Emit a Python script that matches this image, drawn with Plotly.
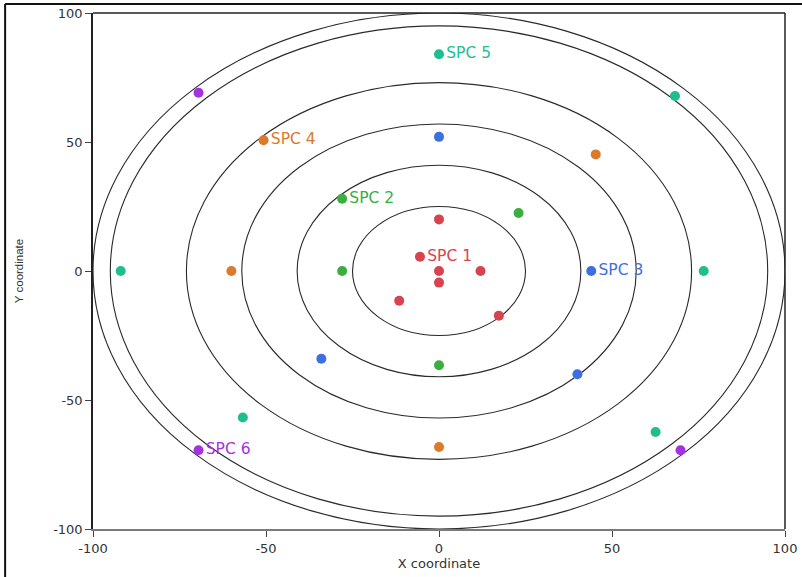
import plotly.graph_objects as go

# ---- data ----
radii = [25, 41, 57, 73, 95, 100]

groups = ["SPC 1", "SPC 2", "SPC 3", "SPC 4", "SPC 5", "SPC 6"]
colors = ["#d9434f", "#3aae3f", "#3d6fe0", "#d97b29", "#1fbe8e", "#a532e0"]

spc1_x = [0, -5.5, 0, 12, 0, -11.5, 17.3]
spc1_y = [20, 5.5, 0, 0, -4.5, -11.5, -17.3]
spc1_lbl = ["", "SPC 1", "", "", "", "", ""]

spc2_x = [-28, -28, 23, 0]
spc2_y = [28, 0, 22.5, -36.5]
spc2_lbl = ["SPC 2", "", "", ""]

spc3_x = [0, 44, -34, 40]
spc3_y = [52, 0, -34, -40]
spc3_lbl = ["", "SPC 3", "", ""]

spc4_x = [-50.7, -60, 45.3, 0]
spc4_y = [50.7, 0, 45.2, -68.2]
spc4_lbl = ["SPC 4", "", "", ""]

spc5_x = [0, 68.2, 76.5, -92, -56.7, 62.6]
spc5_y = [84, 67.8, 0, 0, -56.8, -62.4]
spc5_lbl = ["SPC 5", "", "", "", "", ""]

spc6_x = [-69.5, -69.5, 69.8]
spc6_y = [69.1, -69.5, -69.5]
spc6_lbl = ["", "SPC 6", ""]

xs = [spc1_x, spc2_x, spc3_x, spc4_x, spc5_x, spc6_x]
ys = [spc1_y, spc2_y, spc3_y, spc4_y, spc5_y, spc6_y]
lbls = [spc1_lbl, spc2_lbl, spc3_lbl, spc4_lbl, spc5_lbl, spc6_lbl]

tick_vals = [-100, -50, 0, 50, 100]
tick_text = ["-100", "-50", "0", "50", "100"]

FONT = "DejaVu Sans, sans-serif"
FONT_Y = "Liberation Sans, Arial, sans-serif"

fig = go.Figure()

shapes = []
for r in radii:
    shapes.append(dict(type="circle", xref="x", yref="y", x0=-r, x1=r, y0=-r, y1=r,
                       line=dict(color="#2a2a2a", width=1.1), layer="below"))

for name, c, x, y, t in zip(groups, colors, xs, ys, lbls):
    fig.add_trace(go.Scatter(
        x=x, y=y, mode="markers+text", name=name, text=t,
        textposition="middle right",
        textfont=dict(family=FONT, size=15.5, color=c),
        marker=dict(color=c, size=10, line=dict(width=0)),
        cliponaxis=False,
    ))

# plot frame top & right
shapes.append(dict(type="line", xref="paper", yref="paper", x0=0, x1=1, y0=1, y1=1,
                   line=dict(color="#222222", width=1.5)))
shapes.append(dict(type="line", xref="paper", yref="paper", x0=1, x1=1, y0=0, y1=1,
                   line=dict(color="#222222", width=1.5)))
# outer image frame (left & top)
shapes.append(dict(type="line", xref="paper", yref="paper", x0=-0.127, x1=-0.127, y0=-0.2, y1=1.0175,
                   line=dict(color="#111111", width=2)))
shapes.append(dict(type="line", xref="paper", yref="paper", x0=-0.127, x1=1.1, y0=1.0175, y1=1.0175,
                   line=dict(color="#111111", width=2)))

fig.update_layout(
    width=802, height=577,
    margin=dict(l=93, r=17, t=13, b=48, autoexpand=False),
    paper_bgcolor="white", plot_bgcolor="white",
    showlegend=False,
    shapes=shapes,
    font=dict(family=FONT, size=13, color="#333333"),
    xaxis=dict(range=[-100, 100], tickvals=tick_vals, ticktext=tick_text,
               ticks="outside", ticklen=6,
               tickcolor="#444444", showgrid=False, zeroline=False, automargin=False,
               showline=True, linecolor="#7a7a7a", linewidth=2,
               title=dict(text="X coordinate", font=dict(family=FONT, size=13, color="#333333"), standoff=3),
               tickfont=dict(family=FONT, size=13, color="#333333")),
    yaxis=dict(range=[-100, 100], tickvals=tick_vals, ticktext=tick_text,
               ticks="outside", ticklen=6,
               tickcolor="#444444", showgrid=False, zeroline=False, automargin=False,
               showline=True, linecolor="#222222", linewidth=1.5,
               title=dict(text="Y coordinate", font=dict(family=FONT_Y, size=11.5, color="#333333"), standoff=27),
               tickfont=dict(family=FONT, size=13, color="#333333")),
)

fig.write_html("out.html")
